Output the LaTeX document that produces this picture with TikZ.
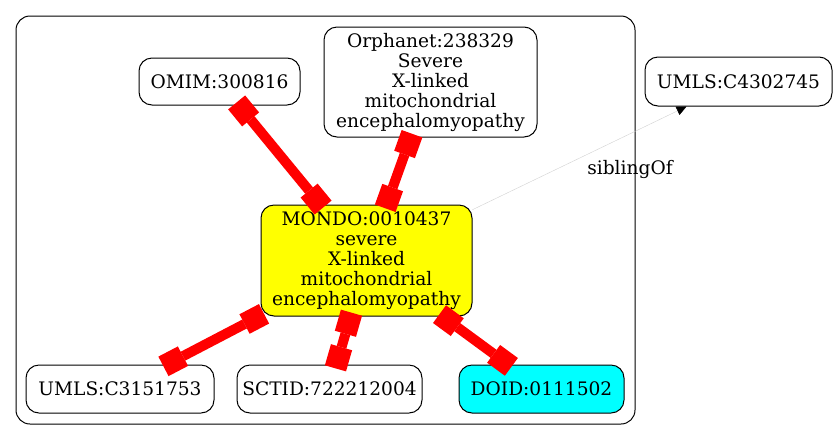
\documentclass[tikz,border=0pt]{standalone}
\usepackage{fontspec}
\setmainfont{DejaVu Serif}
\usetikzlibrary{arrows.meta}
\definecolor{gvyellow}{RGB}{255,255,0}
\definecolor{gvcyan}{RGB}{0,255,255}
\definecolor{gvred}{RGB}{255,0,0}
\begin{document}
\begin{tikzpicture}[x=1pt,y=-1pt,
  every node/.style={font=\fontsize{18.6}{20}\selectfont},
  nd/.style={draw=black, line width=1pt, rounded corners=13pt, align=center, inner sep=0pt},
  boxtip/.tip={Square[length=22pt,width=22pt,line width=0pt]},
  xref/.style={draw=gvred, line width=10pt, {boxtip}-{boxtip}, shorten <=-4pt, shorten >=-4pt},
  sib/.style={draw=black!18, line width=0.4pt, -{Triangle[length=10pt,width=9pt,color=black]}}
]
\useasboundingbox (0,0) rectangle (837,440);
\node[draw=black, line width=1pt, rounded corners=14pt, minimum width=619pt, minimum height=408pt, inner sep=0pt] (cluster) at (325.5,220) {};
\node[nd, minimum width=161pt, minimum height=47pt] (omim) at (219.5,81.5) {OMIM:300816};
\node[nd, minimum width=213pt, minimum height=110pt] (orpha) at (430.5,82) {Orphanet:238329\\Severe\\X-linked\\mitochondrial\\encephalomyopathy};
\node[nd, minimum width=187pt, minimum height=49pt] (umlsb) at (738.5,81.5) {UMLS:C4302745};
\node[nd, fill=gvyellow, minimum width=211pt, minimum height=111pt] (mondo) at (366.5,260.5) {MONDO:0010437\\severe\\X-linked\\mitochondrial\\encephalomyopathy};
\node[nd, minimum width=188pt, minimum height=48pt] (umlsa) at (120,389) {UMLS:C3151753};
\node[nd, minimum width=185pt, minimum height=48pt] (sctid) at (329.5,389) {SCTID:722212004};
\node[nd, fill=gvcyan, minimum width=165pt, minimum height=48pt] (doid) at (541.5,389) {DOID:0111502};
\draw[xref] (omim) -- (mondo);
\draw[xref] (orpha) -- (mondo);
\draw[xref] (mondo) -- (umlsa);
\draw[xref] (mondo) -- (sctid);
\draw[xref] (mondo) -- (doid);
\draw[sib] (mondo) -- (umlsb);
\node (lbl) at (630,169) {siblingOf};
\end{tikzpicture}
\end{document}
